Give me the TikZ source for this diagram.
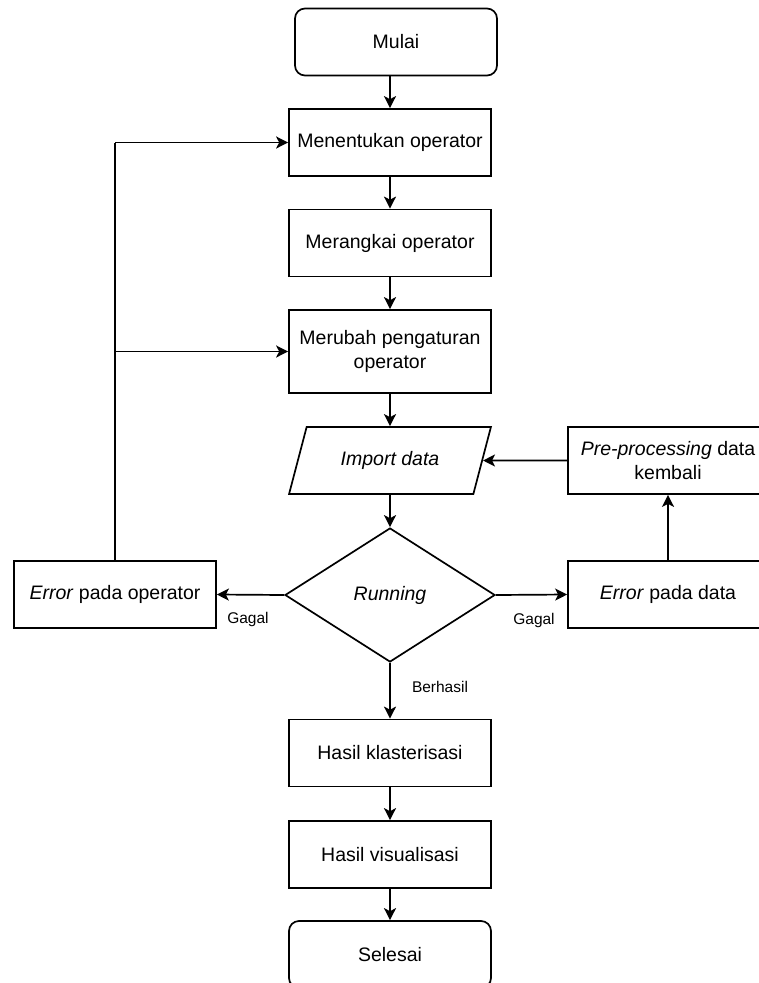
\documentclass[tikz,border=0pt]{standalone}
\usepackage{fontspec}
\setmainfont{Liberation Sans}
\usetikzlibrary{shapes.geometric,arrows.meta}

\begin{document}
\begin{tikzpicture}[x=1pt,y=-1pt,
    box/.style={draw, line width=1.7pt, minimum width=202pt, minimum height=67pt,
        inner sep=2pt, align=center, font=\fontsize{19.5}{24}\selectfont},
    term/.style={box, rounded corners=10pt},
    io/.style={box, trapezium, trapezium left angle=64, trapezium right angle=116,
        trapezium stretches=true},
    keputusan/.style={box, diamond, minimum width=210pt, minimum height=134pt, inner sep=0pt},
    lbl/.style={font=\fontsize{15.5}{18}\selectfont, inner sep=0pt},
    arr/.style={line width=1.7pt, -{Stealth[length=12pt,width=12pt,inset=3pt]}},
    garis/.style={line width=1.7pt}]
            \useasboundingbox (0,0) rectangle (759,983);
            \clip (0,0) rectangle (759,983);
            % alur utama
            \node[term] (mulai) at (396,42) {Mulai};
            \node[box] (menentukan) at (390,142.5) {Menentukan operator};
            \node[box] (merangkai) at (390,243) {Merangkai operator};
            \node[box, minimum height=83pt] (merubah) at (390,351.5) {Merubah pengaturan\\operator};
            \node[io] (import) at (390,460.5) {\itshape Import data};
            \node[keputusan] (running) at (390,595) {\itshape Running};
            \node[box] (klaster) at (390,753) {Hasil klasterisasi};
            \node[box] (visual) at (390,854.5) {Hasil visualisasi};
            \node[term] (selesai) at (390,954.5) {Selesai};
            % cabang gagal
            \node[box] (erroperator) at (115,594.5) {\textit{Error} pada operator};
            \node[box, minimum width=200pt] (errdata) at (668,594.5) {\textit{Error} pada data};
            \node[box, minimum width=200pt] (preproses) at (668,460.5) {\textit{Pre-processing} data\\kembali};
            \node[lbl] (gagalkiri) at (248,619) {Gagal};
            \node[lbl] (gagalkanan) at (534,620) {Gagal};
            \node[lbl] (berhasil) at (440,687) {Berhasil};
            \coordinate (belokatas) at (115,142.5);
            \coordinate (cabang) at (115,351.5);
            % panah
            \draw[arr] (mulai.south -| menentukan.north) -- (menentukan.north);
            \draw[arr] (menentukan) -- (merangkai);
            \draw[arr] (merangkai) -- (merubah);
            \draw[arr] (merubah) -- (import);
            \draw[arr] (import) -- (running);
            \draw[arr] (running) -- (klaster);
            \draw[arr] (klaster) -- (visual);
            \draw[arr] (visual) -- (selesai);
            \draw[arr] (running.west) -- (erroperator.east);
            \draw[arr] (running.east) -- (errdata.west);
            \draw[arr] (errdata) -- (preproses);
            \draw[arr] (preproses.west) -- (import.east);
            \draw[garis] (erroperator.north) -- (belokatas);
            \draw[arr] (belokatas) -- (menentukan.west);
            \draw[arr] (cabang) -- (merubah.west);
        \end{tikzpicture}
\end{document}
